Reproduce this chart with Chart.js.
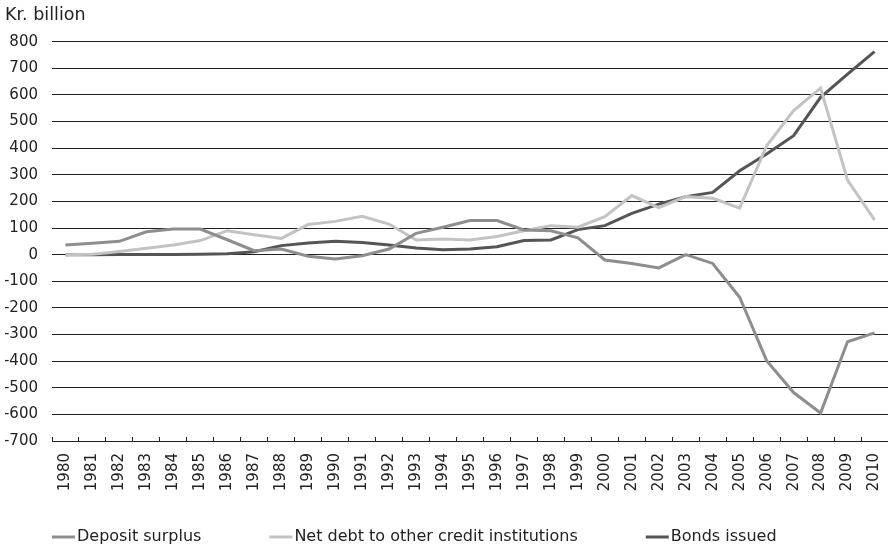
<!DOCTYPE html>
<html>
<head>
<meta charset="utf-8">
<script src="https://cdn.jsdelivr.net/npm/chart.js@4/dist/chart.umd.min.js"></script>
<style>
  html, body { margin: 0; padding: 0; background: #fff; }
  #wrap { width: 888px; height: 547px; position: relative; }
</style>
</head>
<body>
<div id="wrap"><canvas id="chart"></canvas></div>
<script>
"use strict";

const YEARS = [
  "1980", "1981", "1982", "1983", "1984", "1985", "1986", "1987", "1988", "1989",
  "1990", "1991", "1992", "1993", "1994", "1995", "1996", "1997", "1998", "1999",
  "2000", "2001", "2002", "2003", "2004", "2005", "2006", "2007", "2008", "2009",
  "2010",
];

// Kr. billion
const DEPOSIT_SURPLUS = [
  36, 43, 50, 86, 96, 96, 56, 15, 21, -6,
  -16, -4, 21, 80, 103, 128, 128, 93, 90, 63,
  -20, -33, -50, 0, -33, -160, -398, -518, -595, -327,
  -294,
];
const NET_DEBT = [
  0, 2, 12, 24, 36, 53, 90, 75, 61, 113,
  125, 144, 115, 55, 59, 55, 68, 90, 109, 103,
  143, 222, 177, 218, 212, 175, 409, 541, 626, 280,
  131,
];
const BONDS_ISSUED = [
  0, 0, 1, 1, 1, 2, 3, 11, 34, 44,
  50, 46, 36, 25, 18, 21, 30, 53, 55, 94,
  109, 155, 190, 218, 234, 315, 378, 447, 591, 678,
  763,
];

const Y_MIN = -700;
const Y_MAX = 800;
const Y_STEP = 100;

const FONT = "'DejaVu Sans', sans-serif";
const INK = "#222";

const series = [
  { label: "Deposit surplus", data: DEPOSIT_SURPLUS, color: "#8e8e8e" },
  { label: "Net debt to other credit institutions", data: NET_DEBT, color: "#c3c3c3" },
  { label: "Bonds issued", data: BONDS_ISSUED, color: "#555555" },
];

// Legend sits flush left under the plot, so draw it by hand
const bottomLegend = {
  id: "bottomLegend",
  afterDraw(chart) {
    const ctx = chart.ctx;
    const y = 537;
    let x = chart.chartArea.left;
    ctx.save();
    ctx.font = `16px ${FONT}`;
    ctx.textBaseline = "middle";
    ctx.textAlign = "left";
    chart.data.datasets.forEach(ds => {
      ctx.strokeStyle = ds.borderColor;
      ctx.lineWidth = 3;
      ctx.beginPath();
      ctx.moveTo(x, y);
      ctx.lineTo(x + 23, y);
      ctx.stroke();
      ctx.fillStyle = INK;
      ctx.fillText(ds.label, x + 25, y);
      x += 25 + ctx.measureText(ds.label).width + 68;
    });
    ctx.restore();
  },
};

new Chart(document.getElementById("chart"), {
  type: "line",
  data: {
    labels: YEARS,
    datasets: series.map(s => ({
      label: s.label,
      data: s.data,
      borderColor: s.color,
      backgroundColor: s.color,
      borderWidth: 3,
      pointRadius: 0,
      tension: 0,
      fill: false,
    })),
  },
  options: {
    responsive: true,
    maintainAspectRatio: false,
    animation: false,
    layout: { padding: { left: 5, right: 0, top: 0, bottom: 31 } },
    plugins: {
      legend: { display: false },
      tooltip: { enabled: false },
      title: {
        display: true,
        text: "Kr. billion",
        align: "start",
        color: INK,
        font: { family: FONT, size: 17.5, weight: "normal" },
        padding: { top: 5, bottom: 15.7 },
      },
    },
    scales: {
      x: {
        offset: true,
        grid: {
          offset: true,
          drawOnChartArea: false,
          drawTicks: true,
          tickLength: -4,
          color: INK,
        },
        border: { display: true, color: INK, width: 1 },
        ticks: {
          autoSkip: false,
          minRotation: 90,
          maxRotation: 90,
          padding: 16,
          color: INK,
          font: { family: FONT, size: 15 },
        },
        afterFit: (scale) => {
          scale.height = 75;
          scale.paddingLeft = 0;
          scale.paddingRight = 0;
        },
      },
      y: {
        min: Y_MIN,
        max: Y_MAX,
        grid: { color: INK, drawTicks: false },
        border: { display: false },
        ticks: {
          stepSize: Y_STEP,
          padding: 14,
          color: INK,
          font: { family: FONT, size: 15 },
        },
        afterFit: (scale) => { scale.width = 47; },
      },
    },
  },
  plugins: [bottomLegend],
});
</script>
</body>
</html>
